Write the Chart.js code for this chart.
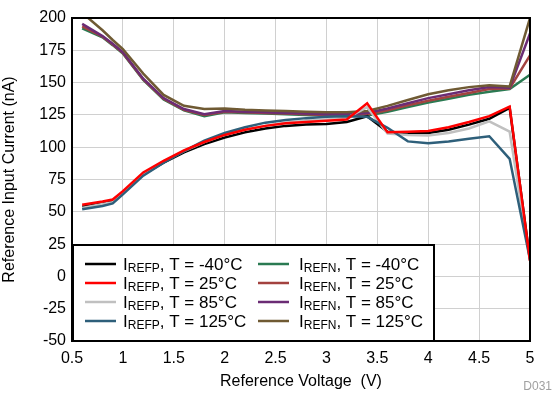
<!DOCTYPE html>
<html>
<head>
<meta charset="utf-8">
<script src="https://cdn.jsdelivr.net/npm/chart.js@4.4.1/dist/chart.umd.min.js"></script>
<style>
  html, body { margin: 0; padding: 0; background: #fff; }
  #wrap { width: 553px; height: 393px; position: relative; }
</style>
</head>
<body>
<div id="wrap"><canvas id="graphic" width="553" height="393"></canvas></div>
<script>
//datos
const voltages = [0.6, 0.8, 0.9, 1.0, 1.2, 1.4, 1.6, 1.8, 2.0, 2.2, 2.4, 2.6, 2.8, 3.0, 3.2, 3.4, 3.6, 3.8, 4.0, 4.2, 4.4, 4.6, 4.8, 5.0];

const refpM40 = [54, 56.5, 58, 65, 79, 88, 96, 102.5, 107.5, 111.5, 114.5, 116.5, 117.5, 118, 119.5, 124, 112, 111, 111, 113.5, 117.5, 122, 130.5, 13];
const refp25 = [55.5, 58, 59.5, 66, 80.5, 89.5, 97.5, 104, 109.5, 113.5, 116.5, 118.5, 119.5, 120.5, 121.5, 134, 111.5, 112, 112.5, 115.5, 119.5, 124, 131.5, 12];
const refp85 = [53, 56, 57.5, 64.5, 79, 89, 97, 104, 109.5, 113.5, 116.5, 119, 120.5, 121.5, 122.5, 131, 110.5, 109.5, 109, 111, 114.5, 120, 112, 12];
const refp125 = [52, 54.5, 56.5, 63.5, 78, 88, 97, 105, 111, 115.5, 119, 121, 122.5, 123.5, 124, 123.5, 115, 104.5, 103, 104.5, 106.5, 108.5, 91, 13];

const refnM40 = [192, 185, 179, 172.5, 152, 137, 128.5, 124, 127, 126.5, 126, 125.5, 125, 124.5, 124.5, 124.5, 127.5, 131, 134.5, 137.5, 140.5, 143, 145, 156];
const refn25 = [193.5, 185.5, 179.5, 173, 152.5, 137.5, 129, 125, 127.5, 127, 126.5, 126, 125.5, 125, 125, 125.5, 128.5, 132.5, 136, 139, 142, 145, 145.5, 171];
const refn85 = [195.5, 186, 180, 173.5, 153, 138, 129.5, 125.5, 128, 127.5, 127, 126.5, 126, 125.5, 125.5, 126.5, 130, 134, 138, 141, 144, 146.5, 146, 188];
const refn125 = [204, 190.5, 183, 176, 157, 140.5, 132, 129.5, 130, 129, 128.5, 128, 127.5, 127, 127, 128, 132, 136.5, 141, 144, 146.5, 148, 147, 200];

const temps = ['-40', '25', '85', '125'];
const refpColors = ['#000000', '#ff0000', '#c0c0c0', '#2e5f7a'];
const refnColors = ['#2a7a52', '#a3423f', '#6b2c74', '#6f5a33'];

const fontFam = "'Liberation Sans', Arial, sans-serif";
let graphic = document.getElementById('graphic');

function pts(values) {
    return values.map((v, i) => ({ x: voltages[i], y: v }));
}

let series = [
    { name: 'REFP', temp: temps[0], color: refpColors[0], data: refpM40 },
    { name: 'REFP', temp: temps[1], color: refpColors[1], data: refp25 },
    { name: 'REFP', temp: temps[2], color: refpColors[2], data: refp85 },
    { name: 'REFP', temp: temps[3], color: refpColors[3], data: refp125 },
    { name: 'REFN', temp: temps[0], color: refnColors[0], data: refnM40 },
    { name: 'REFN', temp: temps[1], color: refnColors[1], data: refn25 },
    { name: 'REFN', temp: temps[2], color: refnColors[2], data: refn85 },
    { name: 'REFN', temp: temps[3], color: refnColors[3], data: refn125 }
];

//orden de dibujo: el rojo encima de los demas
let drawOrder = { 0: 3, 1: 0, 2: 2, 3: 1, 4: 7, 5: 6, 6: 5, 7: 4 };

//leyenda dentro del area y marco
const legendFrame = {
    id: 'legendFrame',
    afterDatasetsDraw(chart) {
        const ctx = chart.ctx;
        const a = chart.chartArea;
        ctx.save();
        // caja de la leyenda
        const bx = 73, by = 245, bw = 361, bh = a.bottom - 245;
        ctx.fillStyle = '#fff';
        ctx.fillRect(bx, by, bw, bh);
        ctx.strokeStyle = '#000';
        ctx.lineWidth = 2;
        ctx.strokeRect(bx, by, bw, bh);

        series.forEach((s, i) => {
            const col = i < 4 ? 0 : 1;
            const row = i % 4;
            const y = 264 + row * 19;
            const lx = col === 0 ? 85 : 258;
            const tx = col === 0 ? 123 : 299;
            ctx.strokeStyle = s.color;
            ctx.lineWidth = 2.5;
            ctx.beginPath();
            ctx.moveTo(lx, y);
            ctx.lineTo(lx + 31, y);
            ctx.stroke();

            ctx.fillStyle = '#000';
            ctx.textBaseline = 'alphabetic';
            ctx.textAlign = 'left';
            let x = tx;
            ctx.font = '17px ' + fontFam;
            ctx.fillText('I', x, y + 6);
            x += ctx.measureText('I').width;
            ctx.font = '12px ' + fontFam;
            ctx.fillText(s.name, x, y + 8);
            x += ctx.measureText(s.name).width;
            ctx.font = '17px ' + fontFam;
            ctx.fillText(', T = ' + s.temp + '\u00B0C', x, y + 6);
        });

        // marco del grafico
        ctx.strokeStyle = '#000';
        ctx.lineWidth = 2;
        ctx.strokeRect(a.left, a.top, a.right - a.left, a.bottom - a.top);

        ctx.fillStyle = '#a0a0a0';
        ctx.font = '12px ' + fontFam;
        ctx.textAlign = 'right';
        ctx.fillText('D031', 552, 390);
        ctx.restore();
    }
};

let myChart = new Chart(graphic, {
    type: 'line',
    data: {
        datasets: series.map((s, i) => ({
            label: 'I' + s.name + ', T = ' + s.temp + '\u00B0C',
            data: pts(s.data),
            borderColor: s.color,
            backgroundColor: s.color,
            borderWidth: 2.5,
            pointRadius: 0,
            tension: 0,
            order: drawOrder[i]
        }))
    },
    options: {
        responsive: false,
        animation: false,
        layout: { padding: { top: 18, right: 23, left: 0, bottom: 0 } },
        plugins: {
            legend: { display: false },
            tooltip: { enabled: false }
        },
        scales: {
            x: {
                type: 'linear',
                min: 0.5,
                max: 5,
                ticks: { stepSize: 0.5, color: '#000', padding: 8, maxRotation: 0, font: { family: fontFam, size: 16 }, callback: (v) => String(v) },
                grid: { color: '#d0d0d0', drawTicks: false },
                border: { color: '#000', width: 2 },
                title: { display: true, text: 'Reference Voltage  (V)', color: '#000', padding: { top: 0, bottom: 2 }, font: { family: fontFam, size: 16 } },
                afterFit: (s) => { s.height = 52; }
            },
            y: {
                min: -50,
                max: 200,
                ticks: { stepSize: 25, color: '#000', padding: 6, font: { family: fontFam, size: 16 } },
                grid: { color: '#d0d0d0', drawTicks: false },
                border: { color: '#000', width: 2 },
                title: { display: true, text: 'Reference Input Current (nA)', color: '#000', padding: 0, font: { family: fontFam, size: 16 } },
                afterFit: (s) => { s.width = 72; }
            }
        }
    },
    plugins: [legendFrame]
});
</script>
</body>
</html>
